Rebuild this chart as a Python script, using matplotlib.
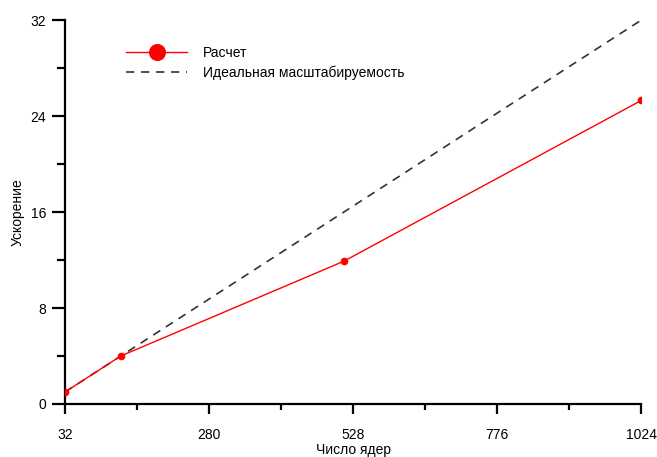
import matplotlib
matplotlib.use('Agg')
import matplotlib.pyplot as plt
from matplotlib.ticker import MultipleLocator, FixedLocator

# Данные
cores = [32, 128, 512, 1024]
speedup = [1, 4, 11.9, 25.3]
ideal_cores = [32, 1024]
ideal_speedup = [1, 32]

x_ticks = [32, 280, 528, 776, 1024]
x_minor = [156, 404, 652, 900]
y_ticks = [0, 8, 16, 24, 32]

plt.rcParams['font.family'] = ['Liberation Sans', 'DejaVu Sans']

fig = plt.figure(figsize=(6.57, 4.57), dpi=100)
ax = fig.add_axes([0.099, 0.116, 0.877, 0.840])

ax.plot(cores, speedup, color='#ff0000', lw=1.0, marker='o', ms=4.5,
        label='Расчет', zorder=3)
ax.plot(ideal_cores, ideal_speedup, color='#333333', lw=1.2,
        dashes=(5, 4), label='Идеальная масштабируемость', zorder=2)

ax.set_xlim(32, 1024)
ax.set_ylim(0, 32)
ax.xaxis.set_major_locator(FixedLocator(x_ticks))
ax.xaxis.set_minor_locator(FixedLocator(x_minor))
ax.yaxis.set_major_locator(FixedLocator(y_ticks))
ax.yaxis.set_minor_locator(MultipleLocator(4))

for s in ['top', 'right']:
    ax.spines[s].set_visible(False)
for s in ['left', 'bottom']:
    ax.spines[s].set_linewidth(1.6)

ax.tick_params(labelsize=10, colors='black')
ax.tick_params(axis='x', which='major', direction='out', length=7, width=1.6, pad=10)
ax.tick_params(axis='x', which='minor', direction='out', length=4.5, width=1.6)
ax.tick_params(axis='y', which='major', direction='out', length=9.5, width=1.6, pad=4)
ax.tick_params(axis='y', which='minor', direction='out', length=6, width=1.6)

ax.set_xlabel('Число ядер', fontsize=10, labelpad=1)
ax.set_ylabel('Ускорение', fontsize=10, labelpad=4)

ax.legend(loc='upper left', bbox_to_anchor=(0.106, 0.932), frameon=False,
          fontsize=10, markerscale=2.5, handlelength=4.4, handletextpad=1.1,
          labelspacing=0.4, borderpad=0, borderaxespad=0)

fig.savefig('out.png', dpi=100)
